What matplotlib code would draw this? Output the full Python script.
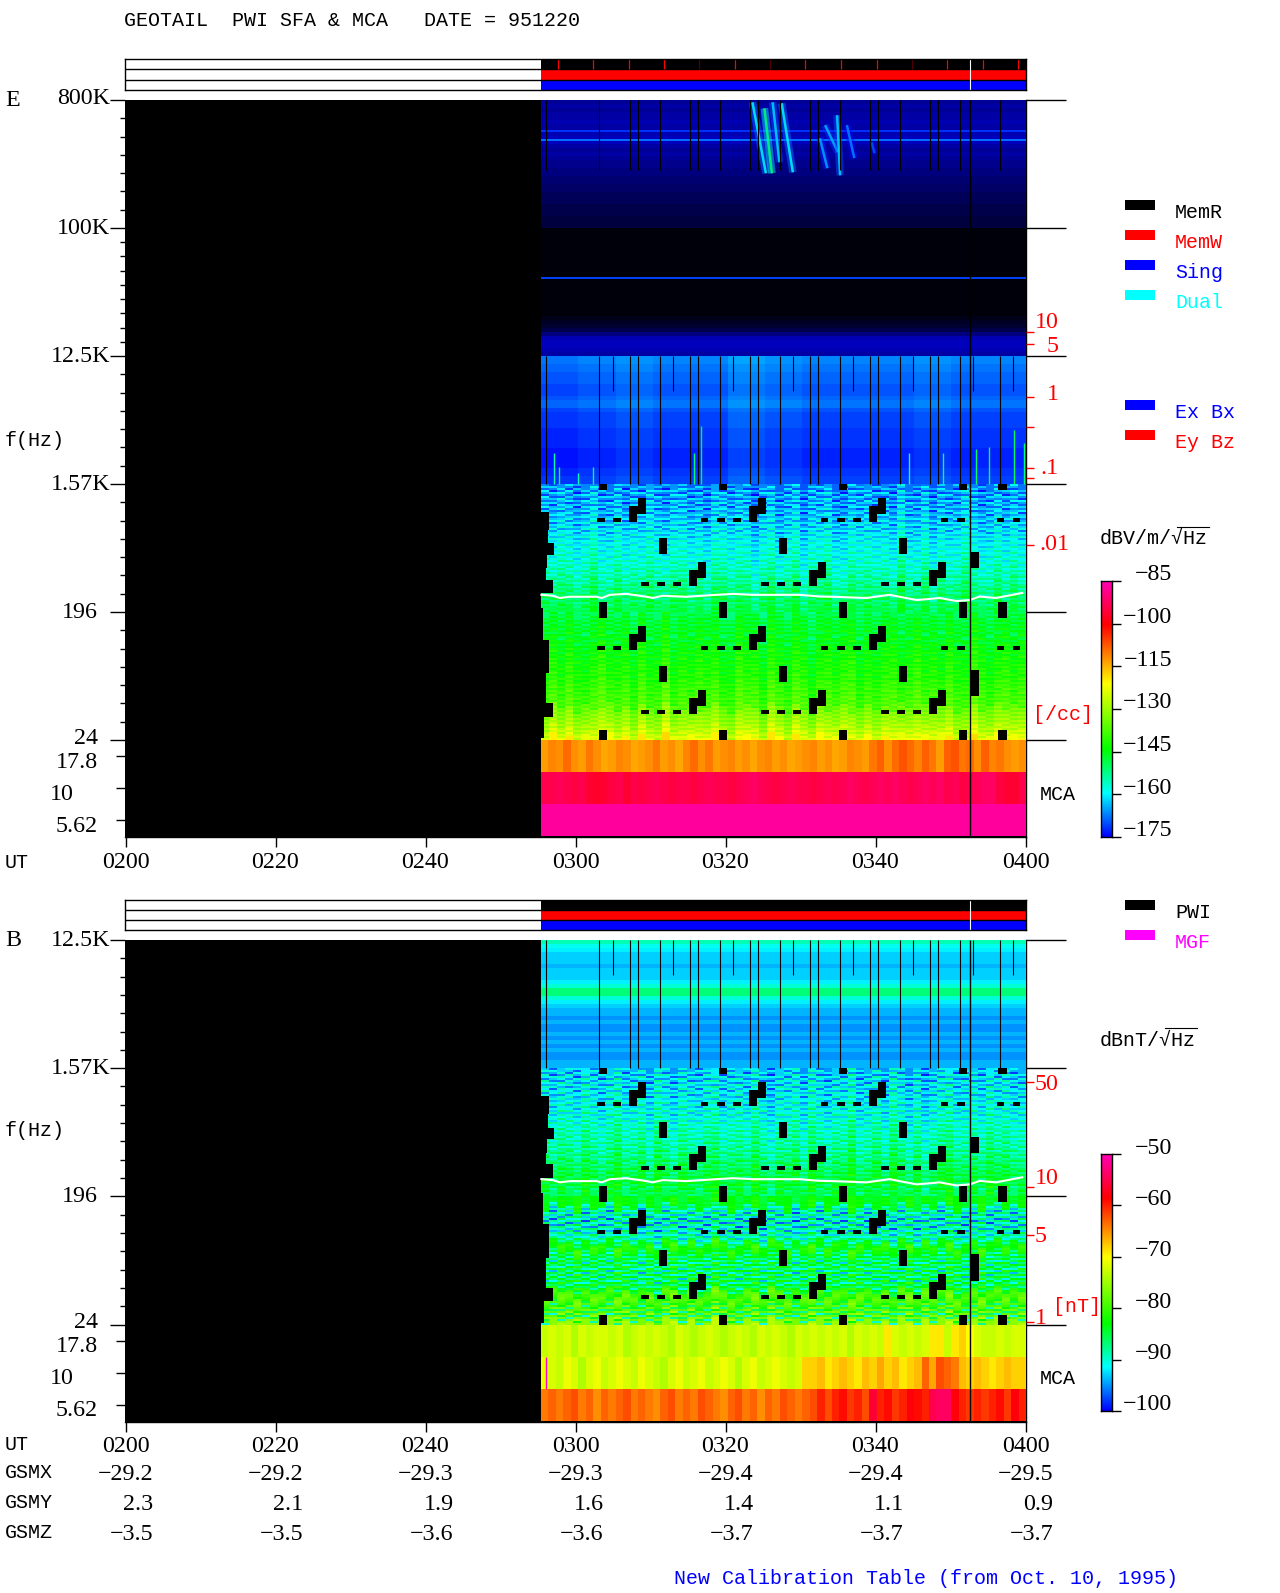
import numpy as np
import matplotlib
matplotlib.use("Agg")
import matplotlib.pyplot as plt
from matplotlib.colors import LinearSegmentedColormap, Normalize
from matplotlib.patches import Rectangle
from matplotlib.lines import Line2D

W, H = 1280, 1593

# ---------- data (estimates) ----------
time_labels = ['0200', '0220', '0240', '0300', '0320', '0340', '0400']
gsmx = ['-29.2', '-29.2', '-29.3', '-29.3', '-29.4', '-29.4', '-29.5']
gsmy = ['2.3', '2.1', '1.9', '1.6', '1.4', '1.1', '0.9']
gsmz = ['-3.5', '-3.5', '-3.6', '-3.6', '-3.7', '-3.7', '-3.7']
data_start = 55.3      # minutes after 0200
data_end = 120.0
event_time = 112.5

# E panel, averaged level (dB) per 4 px row; below -175 stands for sparse speckle
E_band_a = [-183,-182,-183,-182,-182,-181,-182,-182,-181,-180,-180,-182,-183,-182,-183,-184,
            -184,-185,-185,-186,-186,-187,-187,-188,-188,-188,-189,-189,-189,-190,-190,-190]
E_band_b = [-194,-194,-194,-194,-194,-194,-194,-194,-194,-194,-194,-194,-194,-194,-194,-194,
            -194,-194,-194,-194,-194,-194,-193,-192,-191,-189,-185,-181,-180,-180,-181,-182]
E_band_c = [-167,-167,-168,-168,-169,-169,-169,-170,-170,-170,-169,-168,-168,-170,-171,-171,
            -171,-171,-172,-172,-172,-172,-172,-173,-173,-173,-173,-173,-172,-172,-171,-171]
E_band_c_cols = [-1,0,1,0,0,2,1,0,0,0,1,0,0]
# E panel, striped bands: one value per 2 px row
E_band_d = [-168,-163,-170,-161,-166,-172,-160,-165,-169,-162,-167,-160,-171,-163,-161,-167,
            -164,-159,-166,-162,-158,-168,-160,-163,-157,-165,-160,-158,-163,-156,-161,-159,
            -157,-162,-155,-160,-158,-154,-161,-156,-159,-153,-158,-155,-152,-159,-154,-157,
            -153,-150,-156,-152,-155,-149,-153,-151,-148,-154,-150,-147,-152,-149,-151,-148]
E_band_e = [-151,-147,-149,-145,-150,-146,-148,-144,-149,-145,-147,-143,-148,-150,-145,-143,
            -147,-144,-146,-142,-147,-143,-141,-146,-143,-145,-141,-144,-140,-143,-141,-145,
            -142,-139,-143,-140,-142,-138,-141,-139,-137,-142,-138,-140,-136,-139,-137,-140,
            -133,-135,-131,-134,-130,-133,-129,-132,-128,-131,-127,-125,-129,-124,-126,-121]
E_cols = [1,-1,2,0,-2,1,3,-1,0,2,-2,1,-1,3,0,-2,2,1,-1,0,-2,3,1,-1,2,0,-3,1,2,-1,
          0,2,-2,1,0,3,-1,-2,1,0,2,-1,1,-2,3,0,-1,2,-2,1,0,-1,3,1,-2,0,2,-1,1,0]
# per-column row offset, so that the estimated stripes do not run the full width
row_offset = [0,2,-1,3,1,-2,2,0,-3,1,3,-1,2,-2,0,3,-2,1,-1,2,0,-3,2,1,-2,3,0,-1,2,-3,
              1,3,-2,0,2,-1,-3,1,3,0,-2,2,-1,1,3,-3,0,2,-1,1,-2,3,0,-1,2,-3,1,0,3,-2]
E_mca_top = [-113,-111,-112,-109,-112,-113,-110,-112,-114,-113,-111,-112,-114,-113,-112,-110,
             -113,-112,-114,-111,-109,-112,-110,-113,-112,-111,-113,-112,-114,-112,-111,-113,
             -112,-114,-113,-112,-111,-113,-112,-114,-113,-111,-112,-113,-110,-108,-112,-109,
             -107,-109,-111,-108,-110,-113,-108,-107,-110,-109,-112,-108,-111,-110,-112,-113,-112]
E_mca_mid = [-94,-94,-93,-94,-95,-94,-96,-97,-96,-95,-94,-96,-94,-95,-94,-93,-94,-95,-94,-94,
             -95,-94,-93,-94,-94,-95,-94,-93,-92,-93,-94,-95,-94,-93,-94,-94,-95,-94,-93,-94,
             -93,-92,-93,-94,-93,-92,-93,-92,-93,-94,-93,-92,-93,-92,-94,-93,-95,-94,-93,-92,
             -92,-95,-96,-96,-94]
E_mca_low = [-87]*65
# B panel
B_band_c = [-89,-91,-92,-93,-93,-93,-94,-93,-93,-93,-92,-90,-87,-87,-90,-92,
            -93,-94,-94,-95,-94,-95,-95,-94,-95,-94,-95,-94,-95,-95,-94,-94]
B_band_d = [-94,-91,-96,-90,-93,-97,-89,-92,-95,-90,-93,-89,-96,-91,-90,-94,
            -92,-89,-93,-91,-88,-94,-90,-92,-88,-93,-90,-89,-92,-87,-91,-89,
            -88,-91,-87,-90,-89,-86,-91,-88,-89,-86,-90,-87,-85,-89,-87,-88,
            -86,-84,-88,-85,-87,-84,-86,-85,-83,-87,-85,-83,-86,-84,-88,-86]
B_band_e = [-84,-84,-83,-84,-83,-84,-90,-87,-93,-88,-96,-86,-92,-88,-97,-87,
            -90,-94,-86,-89,-93,-87,-90,-86,-82,-81,-82,-82,-83,-87,-84,-90,
            -83,-88,-85,-92,-82,-86,-89,-83,-93,-84,-88,-82,-86,-90,-83,-85,
            -80,-79,-78,-79,-80,-81,-84,-78,-88,-79,-76,-85,-78,-90,-77,-75]
B_cols = [1,-1,1,0,-1,2,0,-1,1,2,-1,0,1,-1,2,0,-1,1,0,-1,1,2,-1,0,1,-1,2,0,-2,1,
          0,1,-1,2,0,-1,1,0,2,-1,0,1,-1,2,0,-1,1,-2,0,1,2,-1,0,1,-1,2,0,1,-1,0]
B_mca_top = [-73,-72,-73,-72,-74,-72,-73,-72,-72,-73,-72,-74,-73,-72,-73,-72,-73,-74,-72,-73,
             -74,-73,-72,-73,-74,-73,-72,-73,-74,-72,-73,-72,-73,-74,-72,-73,-72,-73,-72,-73,
             -72,-74,-72,-73,-72,-73,-69,-72,-73,-72,-73,-72,-69,-69,-73,-69,-68,-70,-72,-73,
             -73,-72,-73,-72,-72]
B_mca_mid = [-71,-72,-73,-71,-72,-74,-72,-71,-73,-72,-71,-72,-73,-71,-72,-73,-74,-72,-71,-73,
             -72,-71,-73,-72,-71,-72,-74,-72,-71,-73,-72,-71,-72,-73,-72,-68,-68,-67,-69,-68,
             -67,-68,-69,-67,-68,-66,-68,-67,-69,-68,-67,-63,-66,-62,-63,-64,-67,-68,-67,-68,
             -69,-68,-67,-68,-68]
B_mca_low = [-64,-63,-64,-63,-62,-64,-63,-65,-63,-64,-63,-62,-64,-63,-64,-65,-63,-62,-64,-63,
             -64,-62,-63,-64,-65,-63,-62,-64,-63,-65,-63,-64,-62,-63,-64,-63,-62,-60,-62,-60,
             -59,-61,-60,-62,-56,-60,-59,-61,-60,-58,-59,-60,-55,-54,-54,-58,-60,-61,-60,-61,
             -60,-59,-61,-58,-60]

# narrow-band lines of the E panel (Hz, dB)
line_freqs = [482e3, 418e3, 44.4e3]
line_levels = [-172, -168, -171]
# chorus streaks of the E panel
streak_t0 = [83.5, 85.1, 86.2, 87.4, 93.2, 94.8, 96.1, 99.4, 92.5]
streak_t1 = [85.3, 86.1, 87.1, 88.9, 94.9, 95.2, 97.1, 99.8, 93.5]
streak_f0 = [774e3, 702e3, 774e3, 762e3, 534e3, 627e3, 534e3, 404e3, 431e3]
streak_f1 = [244e3, 244e3, 292e3, 248e3, 344e3, 236e3, 312e3, 338e3, 265e3]
streak_db = [-158, -150, -160, -158, -162, -160, -165, -168, -163]
# green spikes near 1.57 kHz in the E panel
spike_t = [57.0, 57.7, 60.3, 62.2, 75.7, 76.6, 104.4, 108.9, 113.3, 115.0, 118.4, 119.7]
spike_f = [2590, 2050, 1860, 2050, 2590, 4000, 2590, 2590, 2750, 2870, 3750, 3050]
spike_db = [-155, -150, -155, -152, -152, -148, -158, -152, -150, -150, -150, -152]
# dropouts (minutes)
drop_full = [55.93, 63.05, 67.13, 68.29, 71.13, 75.13, 76.29, 79.13, 83.13, 84.29, 87.13, 91.13,
             92.29, 95.13, 99.13, 100.29, 103.13, 107.13, 108.29, 111.13, 116.47]
drop_short = [64.96, 72.9, 80.9, 88.9, 96.9, 104.9, 112.9, 118.2]
# electron plasma line (minutes, Hz)
fp_t = [55.35, 56.9, 57.8, 59.1, 62.7, 63.4, 64.5, 66.7, 69.4, 70.2, 71.5, 74.7, 78.7, 80.9, 83.5, 88.0,
        89.8, 92.5, 94.2, 98.7, 101.8, 105.4, 108.5, 110.7, 112.5, 113.8, 116.0, 118.2, 119.5]
fp_f = [259, 255, 246, 251, 251, 246, 259, 263, 251, 246, 255, 251, 259, 263, 259, 259,
        259, 252, 251, 246, 259, 238, 246, 234, 238, 252, 246, 259, 267]
# data-gap blocks: times (minutes) and heights (octal decades above 24.5 Hz)
gap_t0 = [63.0, 68.2, 67.0, 67.0, 60.6, 62.78, 64.9, 71.0, 76.2, 75.0, 75.0, 68.6, 70.74, 72.87, 63.0]
gap_t1 = [64.16, 69.27, 69.27, 68.07, 61.6, 63.8, 65.94, 72.16, 77.27, 77.27, 76.07, 69.67, 71.8, 73.94, 64.16]
gap_u0 = [.953, .828, .766, .703, .703, .703, .703, .453, .328, .266, .203, .203, .203, .203, 0]
gap_u1 = [1.078, .891, .828, .766, .734, .734, .734, .578, .391, .328, .266, .234, .234, .234, .078]
# jagged left edge of the low-frequency data
edge_u0 = [1.641, 1.536, 1.445, 1.341, 1.25, 1.146, .781, .521, .391, .286, .182, .013]
edge_u1 = [1.784, 1.641, 1.536, 1.445, 1.341, 1.25, 1.03, .781, .521, .391, .286, .182]
edge_t = [56.4, 56.2, 57.05, 56.1, 56.0, 56.9, 55.5, 56.3, 56.0, 56.0, 56.9, 55.7]
# status bar
red_marks = [57.5, 62.2, 67.0, 71.6, 81.1, 90.5, 95.2, 100.0, 109.4, 114.2, 118.9]
dim_marks = [76.3, 85.8, 104.7]
cbar_E = [-85, -100, -115, -130, -145, -160, -175]
cbar_B = [-50, -60, -70, -80, -90, -100]

# ---------- helpers ----------
plt.rcParams['font.family'] = ['Liberation Serif', 'DejaVu Serif']
fig = plt.figure(figsize=(W / 100, H / 100), dpi=100, facecolor='white')
NUM, LET = 17.3, 14.42
MONO = 'Liberation Mono'
RIGHT = 1026


def px_axes(x0, y0, x1, y1):
    return fig.add_axes([x0 / W, 1 - y1 / H, (x1 - x0) / W, (y1 - y0) / H])


def T(x, y, s, color='k', ha='left', size=NUM, font='Liberation Serif', dy=2):
    fig.text(x / W, 1 - (y + dy) / H, s, color=color, ha=ha, va='center', fontsize=size, family=font)


def L(x, y, s, color='k', ha='left'):
    T(x, y, s, color, ha, LET, MONO, dy=1)


def U(f):
    return np.log(np.asarray(f, float) / 24.5) / np.log(8)


def swatch(x0, y0, x1, y1, c):
    fig.add_artist(Rectangle((x0 / W, 1 - y1 / H), (x1 - x0) / W, (y1 - y0) / H, color=c,
                             transform=fig.transFigure, lw=0))


ext = 20 / 110
stops = [(0.0, '#000000'), (ext, '#0000ff')]
for t, c in [(.17, '#00ffff'), (.34, '#00ff00'), (.60, '#ffff00'), (.83, '#ff0000'), (1.0, '#ff00b4')]:
    stops.append((ext + t * (1 - ext), c))
cmap = LinearSegmentedColormap.from_list('pwi', stops, N=512)
norm_E = Normalize(-195, -85)
norm_B = Normalize(-100 - 50 * 20 / 90, -50)

t_edges60 = np.linspace(data_start, data_end, 61)
t_edges65 = np.linspace(data_start, data_end, 66)
t_edges13 = np.linspace(data_start, data_end, 14)


def band(ax, norm, rows, u_top, u_bot, cols=None, edges=None, offs=None):
    rows = np.asarray(rows, float)
    u = np.linspace(u_top, u_bot, len(rows) + 1)
    if cols is None:
        Z = rows[:, None]
        edges = np.array([data_start, data_end])
    else:
        cols = np.asarray(cols, float)
        Z = rows[:, None] + cols[None, :]
        if offs is not None:
            j = np.arange(len(rows))
            Z = np.column_stack([rows[np.clip(j + o, 0, len(rows) - 1)] + c for o, c in zip(offs, cols)])
    ax.pcolormesh(edges, u, Z, cmap=cmap, norm=norm, shading='flat')


def mca(ax, norm, vals, u_top):
    Z = np.asarray(vals, float)[None, :]
    ax.pcolormesh(t_edges65, [u_top, u_top - .25], Z, cmap=cmap, norm=norm, shading='flat')


def common(ax, utop, red_ticks):
    ax.set_facecolor('k')
    ax.set_xlim(-0.2, 119.93)
    ax.set_ylim(-.758, utop)
    ax.set_xticks(np.arange(0, 121, 20))
    ax.set_xticklabels([])
    ax.tick_params(axis='x', length=7.5, width=1)
    majors = np.arange(0, utop + .5)
    ax.set_yticks(majors)
    ax.set_yticklabels([])
    ax.tick_params(axis='y', which='major', length=10.8, width=1, left=True)
    minors = []
    for k in range(int(utop)):
        n = 9 if k == 3 else 7
        minors += list(k + np.arange(1, n) / n)
    ax.set_yticks(minors, minor=True)
    ax.tick_params(axis='y', which='minor', length=3.6, width=1)
    mt = ax.secondary_yaxis('left')
    mt.set_yticks([-.125, -.375, -.625])
    mt.set_yticklabels([])
    mt.tick_params(length=6.5, width=1)
    mt.spines['left'].set_visible(False)
    rt = ax.secondary_yaxis('right')
    rt.set_yticks(majors)
    rt.set_yticklabels([])
    rt.tick_params(length=29, width=1)
    rt.spines['right'].set_linewidth(1)
    rr = ax.secondary_yaxis('right')
    rr.set_yticks(red_ticks)
    rr.set_yticklabels([])
    rr.tick_params(length=6, width=1, color='red')
    rr.spines['right'].set_visible(False)
    for s in ('top', 'left'):
        ax.spines[s].set_visible(False)
    ax.spines['bottom'].set_linewidth(1)
    ax.spines['right'].set_visible(False)


def overlays(ax, cycles_top):
    ax.vlines(drop_full, 2, cycles_top, color='k', lw=.8)
    ax.vlines(drop_short, cycles_top - .27, cycles_top, color='k', lw=.8)
    for shift in (0, 1):
        for t0, t1, u0, u1 in zip(gap_t0, gap_t1, gap_u0, gap_u1):
            for cyc in (0, 16, 32, 48, 53.3):
                a, b = t0 + cyc, t1 + cyc
                if cyc == 0 and t0 == 60.6:
                    continue
                if cyc == 48 and b > 112.5:
                    continue
                if cyc == 53.3 and a < 116:
                    continue
                if a >= 120:
                    continue
                ax.bar(a, min(u1 + shift, 2) - (u0 + shift), bottom=u0 + shift, width=min(b, 120) - a,
                       align='edge', color='k', lw=0)
    ax.bar(112.5, .21, bottom=.34, width=1.2, align='edge', color='k', lw=0)
    ax.bar(112.5, .125, bottom=1.34, width=1.2, align='edge', color='k', lw=0)
    ax.barh(edge_u0, np.asarray(edge_t) - 55, left=55, height=np.asarray(edge_u1) - np.asarray(edge_u0),
            align='edge', color='k', lw=0)
    ax.plot(fp_t, U(fp_f), color='white', lw=1.5, solid_joinstyle='round')
    ax.vlines(event_time, -.758, ax.get_ylim()[1], color='k', lw=1)


def status(y0, y1, marks):
    a = px_axes(125, y0, RIGHT, y1)
    a.set_xlim(-.2, 119.93)
    a.set_ylim(0, 3)
    a.barh([2, 1, 0], [data_end - data_start] * 3, left=data_start, height=1, align='edge',
           color=['k', '#ff0000', '#0000ff'], lw=0)
    for yy in (1, 2):
        a.axhline(yy, color='k', lw=1)
    if marks:
        a.vlines(red_marks, 2, 3, color='#ff0000', lw=.9)
        a.vlines(dim_marks, 2, 3, color='#500000', lw=.9)
    a.vlines(event_time, 0, 3, color='white', lw=.8)
    a.set_xticks([])
    a.set_yticks([])
    for s in a.spines.values():
        s.set_linewidth(1)


def colorbar(y0, y1, lo, hi, ticks, norm):
    a = px_axes(1101, y0, 1112, y1)
    g = np.linspace(lo, hi, 256)[:, None]
    a.imshow(g, origin='lower', extent=[0, 1, lo, hi], aspect='auto', cmap=cmap, norm=norm)
    a.set_xticks([])
    a.yaxis.tick_right()
    a.set_yticks(ticks)
    a.set_yticklabels([])
    a.tick_params(length=6.5, width=1)
    for s in a.spines.values():
        s.set_linewidth(1)
    for v in ticks:
        y = y1 - (v - lo) / (hi - lo) * (y1 - y0)
        T(1172, y - 8, '\u2212' + str(abs(v)), ha='right')


# ---------- E panel ----------
axE = px_axes(125, 100, RIGHT, 837)
common(axE, 5, [3.1875, 3.094, 2.68, 2.445, 2.125, 2.047, 1.52])
band(axE, norm_E, E_band_a, 5, 4)
band(axE, norm_E, E_band_b, 4, 3)
band(axE, norm_E, E_band_c, 3, 2, E_band_c_cols, t_edges13)
band(axE, norm_E, E_band_d, 2, 1, E_cols, t_edges60, row_offset)
band(axE, norm_E, E_band_e, 1, 0, E_cols[::-1], t_edges60, row_offset[::-1])
mca(axE, norm_E, E_mca_top, 0)
mca(axE, norm_E, E_mca_mid, -.25)
mca(axE, norm_E, E_mca_low, -.5)
axE.hlines(U(line_freqs), data_start, data_end, colors=cmap(norm_E(line_levels)), lw=1.4)
for a, b, f0, f1, d in zip(streak_t0, streak_t1, streak_f0, streak_f1, streak_db):
    axE.plot([a, b], U([f0, f1]), color=cmap(norm_E(d - 10)), lw=5.5, alpha=.45, solid_capstyle='butt')
    axE.plot([a, b], U([f0, f1]), color=cmap(norm_E(d - 2)), lw=1.8, alpha=.85, solid_capstyle='butt')
axE.vlines(spike_t, 2, U(spike_f), colors=cmap(norm_E(spike_db)), lw=1)
axE.vlines(drop_full, 4.45, 5, color='k', lw=.8)
overlays(axE, 3)

# ---------- B panel ----------
axB = px_axes(125, 940, RIGHT, 1421.7)
common(axB, 3, [2.0 - .11, 1.07, .7, .02])
band(axB, norm_B, B_band_c, 3, 2)
band(axB, norm_B, B_band_d, 2, 1, B_cols, t_edges60, row_offset)
band(axB, norm_B, B_band_e, 1, 0, B_cols[::-1], t_edges60, row_offset[::-1])
mca(axB, norm_B, B_mca_top, 0)
mca(axB, norm_B, B_mca_mid, -.25)
mca(axB, norm_B, B_mca_low, -.5)
axB.vlines(56.0, -.5, -.25, color='#ff00c8', lw=1)
overlays(axB, 3)

status(59, 90, True)
status(900, 930, False)
colorbar(581, 837, -175, -85, cbar_E, norm_E)
colorbar(1154, 1411, -100, -50, cbar_B, norm_B)

# ---------- text ----------
L(124, 20, 'GEOTAIL  PWI SFA & MCA   DATE = 951220')
T(5, 99, 'E')
T(5, 938, 'B')
for off, labs in ((0, [('800K', 110, 97), ('100K', 110, 226), ('12.5K', 110, 354), ('1.57K', 110, 482),
                       ('196', 98, 610), ('24', 98, 737), ('17.8', 98, 761), ('10', 74, 793), ('5.62', 98, 825)]),
                  (584, [('12.5K', 110, 354), ('1.57K', 110, 482), ('196', 98, 610), ('24', 98, 737),
                         ('17.8', 98, 761), ('10', 74, 793), ('5.62', 98, 825)])):
    for s, x, y in labs:
        T(x, y + off, s, ha='right')
L(5, 440, 'f(Hz)')
L(5, 1130, 'f(Hz)')
L(5, 861, 'UT')
L(5, 1444, 'UT')
L(5, 1472, 'GSMX')
L(5, 1502, 'GSMY')
L(5, 1532, 'GSMZ')
for i, lab in enumerate(time_labels):
    x = 125.5 + 150 * i
    T(x, 860, lab, ha='center')
    T(x, 1444, lab, ha='center')
    T(x + 28, 1472, gsmx[i].replace('-', '\u2212'), ha='right')
    T(x + 28, 1502, gsmy[i], ha='right')
    T(x + 28, 1532, gsmz[i].replace('-', '\u2212'), ha='right')

for s, y in (('10', 322), ('5', 345), ('1', 394), ('.1', 467), ('.01', 543)):
    T(1059 if s != '.01' else 1069, y - 1, s, color='red', ha='right')
L(1033, 713, '[/cc]', color='red')
L(1040, 793, 'MCA')
L(1040, 1377, 'MCA')
for s, x, y in (('50', 1035, 1082), ('10', 1035, 1176), ('5', 1035, 1234), ('1', 1035, 1317)):
    T(x, y, s, color='red')
L(1053, 1305, '[nT]', color='red')

for y, c, s in ((200, 'k', 'MemR'), (230, '#ff0000', 'MemW'), (260, '#0000ff', 'Sing'), (290, '#00ffff', 'Dual'),
                (400, '#0000ff', 'Ex Bx'), (430, '#ff0000', 'Ey Bz'), (900, 'k', 'PWI'), (930, '#ff00ff', 'MGF')):
    swatch(1125, y, 1155, y + 10, c)
    L(1175, y + 12, s, color=c)

L(1100, 538, 'dBV/m/\u221aHz')
L(1100, 1039, 'dBnT/\u221aHz')
for x0, x1, y in ((1177, 1209, 527), (1165, 1197, 1028)):
    fig.add_artist(Line2D([x0 / W, x1 / W], [1 - y / H, 1 - y / H], color='k', lw=.8, transform=fig.transFigure))
L(674, 1577, 'New Calibration Table (from Oct. 10, 1995)', color='#0000ff')

fig.savefig('out.png', dpi=100, facecolor='white')
